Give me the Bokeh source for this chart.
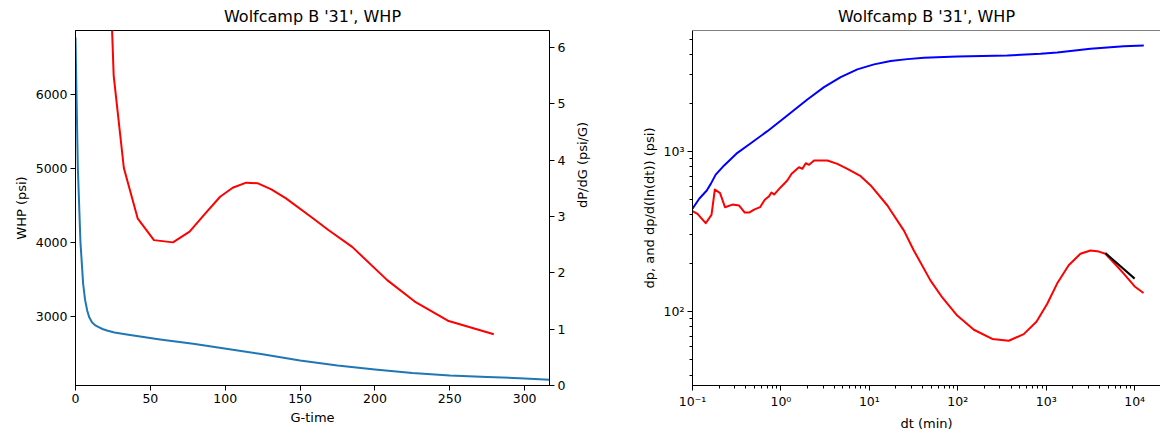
import math
from bokeh.plotting import figure
from bokeh.models import (Range1d, LinearAxis, SingleIntervalTicker, LogTicker,
                          CustomJSTickFormatter, Span)
from bokeh.layouts import row
from bokeh.embed import file_html
from bokeh.resources import INLINE

# ---------------- data ----------------
# Left panel: WHP vs G-time
g_time = [0, 0.66, 1.55, 3.3, 5.1, 6.4, 7.8, 9.2, 11, 13, 15.5, 18, 21, 26,
          34.3, 56.5, 78.6, 100.7, 122.9, 150, 175, 200, 225, 250, 275, 300,
          316.6]
whp = [6770, 6010, 5020, 4010, 3448, 3230, 3088, 2995, 2930, 2890, 2862, 2838,
       2818, 2790, 2764, 2697, 2638, 2571, 2504, 2413, 2345, 2292, 2245, 2211,
       2190, 2172, 2153]

# Left panel: dP/dG vs G-time (secondary axis)
g_deriv = [19.5, 25.5, 32.3, 41.6, 52.4, 65.1, 76.2, 86.6, 96.6, 105.0, 114.0,
           121.5, 130.8, 140.6, 159.0, 168.9, 184.8, 208.2, 226.6, 248.7, 279.4]
dpdg = [10.0, 5.5, 3.86, 2.96, 2.58, 2.54, 2.73, 3.05, 3.35, 3.51, 3.60,
        3.59, 3.48, 3.32, 2.96, 2.76, 2.46, 1.87, 1.49, 1.15, 0.91]

# Right panel: dp vs dt (log-log)
dt_dp = [0.1, 0.119, 0.145, 0.161, 0.183, 0.228, 0.322, 0.456, 0.703, 1.18,
         1.99, 3.07, 4.74, 7.31, 11.3, 17.4, 26.9, 41.4, 98.6, 362, 863, 1330,
         3162, 7530, 12680]
dp = [437, 505, 568, 625, 714, 815, 977, 1122, 1334, 1671, 2104, 2512, 2901,
      3245, 3486, 3655, 3760, 3836, 3908, 3964, 4062, 4139, 4365, 4531, 4580]

# Right panel: dp/d(ln(dt)) vs dt
dt_der = [0.1, 0.114, 0.141, 0.164, 0.179, 0.205, 0.233, 0.283, 0.337, 0.39,
          0.437, 0.497, 0.581, 0.656, 0.735, 0.782, 0.836, 0.995, 1.18, 1.32,
          1.60, 1.75, 1.91, 2.08, 2.37, 3.35, 4.35, 5.64, 7.98, 10.35, 16.0,
          17.4, 24.6, 31.8, 49.0, 66.7, 98.5, 152, 245, 377, 557, 775, 1023,
          1327, 1795, 2437, 3162, 3936, 4667, 6067, 7520, 10000, 12600]
dp_der = [422, 406, 355, 400, 577, 547, 447, 464, 458, 414, 414, 432, 447, 497,
          524, 552, 536, 596, 656, 723, 794, 776, 841, 822, 874, 874, 834, 776,
          698, 611, 458, 426, 319, 240, 156, 122, 94, 76.7, 67.2, 65.5, 72, 86,
          111, 149, 194, 229, 240, 236, 229, 196, 172, 143, 130]

# Right panel: fitted slope line
fit_dt = [4670, 10000]
fit_val = [231, 160]

TITLE = "Wolfcamp B '31', WHP"
FONT = "DejaVu Sans"


def style_axis(ax):
    ax.axis_line_color = "black"
    ax.major_tick_line_color = "black"
    ax.minor_tick_line_color = "black"
    ax.major_tick_in = 0
    ax.major_tick_out = 5
    ax.minor_tick_in = 0
    ax.minor_tick_out = 3
    ax.major_label_text_font = FONT
    ax.major_label_text_font_size = "12.5px"
    ax.major_label_text_color = "black"
    ax.axis_label_text_font = FONT
    ax.axis_label_text_font_size = "13px"
    ax.axis_label_text_font_style = "normal"
    ax.axis_label_text_color = "black"
    ax.major_label_standoff = 3
    ax.axis_label_standoff = 4


def style_fig(p):
    p.title.text_font = FONT
    p.title.text_font_size = "16px"
    p.title.text_font_style = "normal"
    p.title.text_color = "black"
    p.title.align = "center"
    p.title.standoff = 9
    p.xgrid.visible = False
    p.ygrid.visible = False
    p.background_fill_color = "white"
    p.border_fill_color = "white"


# ---------------- left panel ----------------
p1 = figure(width=600, height=433, title=TITLE,
            x_range=Range1d(0, 316.6), y_range=Range1d(2076, 6863),
            output_backend="svg", toolbar_location=None,
            min_border_left=75, min_border_right=48,
            min_border_top=30, min_border_bottom=48)
style_fig(p1)
p1.outline_line_color = "black"
p1.outline_line_alpha = 1
p1.extra_y_ranges = {"deriv": Range1d(0, 6.3)}

p1.xaxis.ticker = SingleIntervalTicker(interval=50, num_minor_ticks=0)
p1.yaxis.ticker = SingleIntervalTicker(interval=1000, num_minor_ticks=0)
p1.xaxis.axis_label = "G-time"
p1.yaxis.axis_label = "WHP (psi)"
style_axis(p1.xaxis[0])
style_axis(p1.yaxis[0])

ax_r = LinearAxis(y_range_name="deriv", axis_label="dP/dG (psi/G)",
                  ticker=SingleIntervalTicker(interval=1, num_minor_ticks=0))
style_axis(ax_r)
ax_r.axis_label_orientation = math.pi / 2
ax_r.axis_label_standoff = 14
p1.add_layout(ax_r, "right")

p1.line(g_time, whp, line_color="#1f77b4", line_width=2, line_join="round")
p1.line(g_deriv, dpdg, line_color="red", line_width=2, line_join="round",
        y_range_name="deriv")

# ---------------- right panel ----------------
p2 = figure(width=560, height=433, title=TITLE,
            x_axis_type="log", y_axis_type="log",
            x_range=Range1d(0.1, 19590), y_range=Range1d(34.4, 5675),
            output_backend="svg", toolbar_location=None,
            min_border_left=92, min_border_right=0,
            min_border_top=30, min_border_bottom=48)
style_fig(p2)
p2.outline_line_color = None

sup_fmt = CustomJSTickFormatter(code="""
const e = Math.round(Math.log10(tick));
const m = {'-':'\\u207b','0':'\\u2070','1':'\\u00b9','2':'\\u00b2','3':'\\u00b3',
           '4':'\\u2074','5':'\\u2075','6':'\\u2076','7':'\\u2077','8':'\\u2078','9':'\\u2079'};
return '10' + String(e).split('').map(c => m[c]).join('');
""")
p2.xaxis.ticker = LogTicker(mantissas=[1], num_minor_ticks=10)
p2.yaxis.ticker = LogTicker(mantissas=[1], num_minor_ticks=10)
p2.xaxis.formatter = sup_fmt
p2.yaxis.formatter = sup_fmt
p2.xaxis.axis_label = "dt (min)"
p2.yaxis.axis_label = "dp, and dp/d(ln(dt)) (psi)"
style_axis(p2.xaxis[0])
style_axis(p2.yaxis[0])

p2.add_layout(Span(location=5675, dimension="width", line_color="black",
                   line_width=1))

p2.line(dt_dp, dp, line_color="blue", line_width=2, line_join="round")
p2.line(dt_der, dp_der, line_color="red", line_width=2, line_join="round")
p2.line(fit_dt, fit_val, line_color="black", line_width=2)

layout = row(p1, p2)
open("out.html", "w").write(file_html(layout, INLINE))
